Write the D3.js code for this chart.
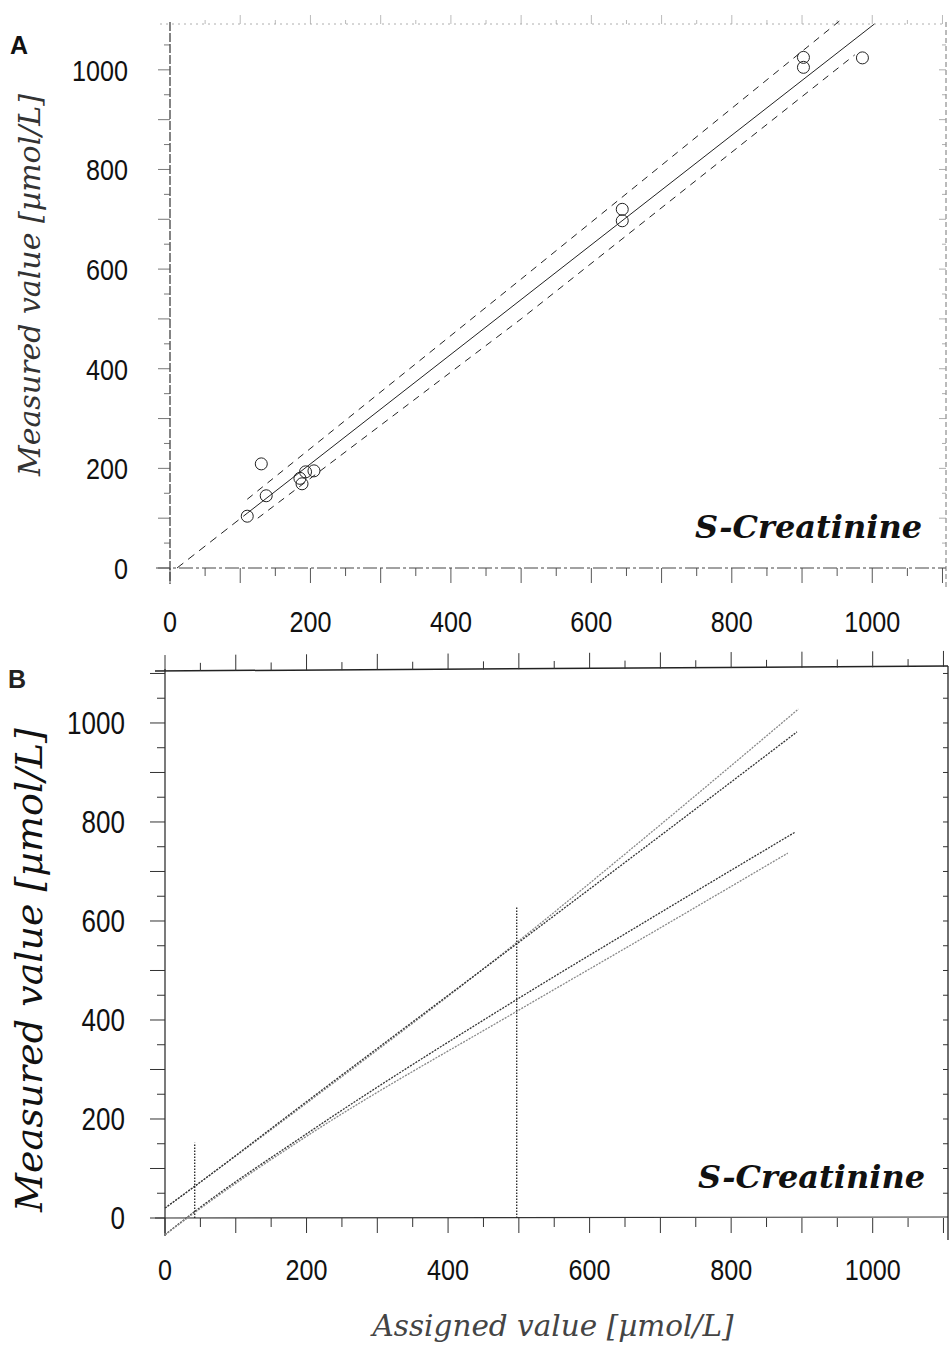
<!DOCTYPE html>
<html>
<head>
<meta charset="utf-8">
<script src="https://cdn.jsdelivr.net/npm/d3@7"></script>
<style>
  body { margin: 0; background: #fff; }
  svg { display: block; }
</style>
</head>
<body>
<script>
// ---- data ----
const tickLabels = [0, 200, 400, 600, 800, 1000]
const tickSteps = d3.range(0, 1101, 50)

// panel A: measured vs assigned, circles
const assignedA = [110, 130, 137, 188, 185, 193, 205, 644, 644, 902, 902, 986]
const measuredA = [104, 209, 145, 169, 180, 193, 195, 720, 697, 1025, 1005, 1024]

// panel A: regression line and its limits
const fitExtX = [10, 110]
const fitExtY = [0, 110]
const fitX = [110, 1003]
const fitY = [110, 1092]
const upperX = [110, 500, 955]
const upperY = [138, 580, 1100]
const lowerX = [125, 500, 975]
const lowerY = [100, 500, 1030]

// panel B: four limit curves
const curveX1 = [0, 41, 200, 500, 671, 895]
const curveY1 = [20, 63, 232, 560, 760, 1028]
const curveX2 = [0, 41, 200, 500, 671, 893]
const curveY2 = [20, 63, 235, 557, 741, 982]
const curveX3 = [0, 41, 200, 500, 671, 891]
const curveY3 = [-34, 12, 170, 444, 592, 780]
const curveX4 = [0, 41, 200, 500, 671, 880]
const curveY4 = [-34, 10, 165, 420, 562, 737]

// panel B: vertical markers
const markX = [42, 497]
const markTop = [152, 628]

const w = 952
const h = 1350
const numFont = "Liberation Sans, Arial, sans-serif"

let svg = d3.select("body")
    .append("svg")
    .attr("width", w)
    .attr("height", h)

const zip = (xs, ys) => xs.map((x, i) => [x, ys[i]])

// narrow-looking tick numbers: squeeze horizontally
function numLabels(g, data, fx, fy, anchor, size) {
    g.append("g").selectAll("text").data(data).enter()
        .append("text")
        .attr("transform", d => `translate(${fx(d)},${fy(d)}) scale(0.84,1)`)
        .attr("text-anchor", anchor)
        .attr("font-family", numFont)
        .attr("font-size", size).attr("fill", "#111")
        .text(d => d)
}

// ================= panel A =================
let xA = d3.scaleLinear().domain([0, 1105]).range([170, 946])
let yA = d3.scaleLinear().domain([0, 1092]).range([568, 24])
let gA = svg.append("g")

// frame
gA.append("line").attr("x1", 170).attr("x2", 170).attr("y1", 22).attr("y2", 584)
    .attr("stroke", "#333").attr("stroke-width", 1.2).attr("stroke-dasharray", "9,2")
gA.append("line").attr("x1", 156).attr("x2", 946).attr("y1", 568).attr("y2", 568)
    .attr("stroke", "#444").attr("stroke-width", 1).attr("stroke-dasharray", "14,3,3,3")
gA.append("line").attr("x1", 160).attr("x2", 946).attr("y1", 24).attr("y2", 24)
    .attr("stroke", "#999").attr("stroke-width", 0.8).attr("stroke-dasharray", "2,4")
gA.append("line").attr("x1", 946).attr("x2", 946).attr("y1", 22).attr("y2", 590)
    .attr("stroke", "#666").attr("stroke-width", 0.9).attr("stroke-dasharray", "5,3")

// ticks
gA.append("g").selectAll("line").data(tickSteps.filter(d => d <= 1100)).enter()
    .append("line")
    .attr("x1", d => xA(d)).attr("x2", d => xA(d))
    .attr("y1", 568).attr("y2", d => 568 + (d % 100 === 0 ? 15 : 8))
    .attr("stroke", "#444").attr("stroke-width", 0.9)
gA.append("g").selectAll("line").data(tickSteps.filter(d => d <= 1050)).enter()
    .append("line")
    .attr("y1", d => yA(d)).attr("y2", d => yA(d))
    .attr("x1", 170).attr("x2", d => 170 - (d % 100 === 0 ? 12 : 6))
    .attr("stroke", "#555").attr("stroke-width", 0.8)
gA.append("g").selectAll("line").data(tickSteps.filter(d => d > 0 && d <= 1100)).enter()
    .append("line")
    .attr("x1", d => xA(d)).attr("x2", d => xA(d))
    .attr("y1", 24).attr("y2", d => 24 - (d % 100 === 0 ? 9 : 4))
    .attr("stroke", "#aaa").attr("stroke-width", 0.8)
gA.append("g").selectAll("line").data(tickSteps.filter(d => d > 0 && d <= 1050)).enter()
    .append("line")
    .attr("y1", d => yA(d)).attr("y2", d => yA(d))
    .attr("x1", 946).attr("x2", d => 946 - (d % 100 === 0 ? 7 : 4))
    .attr("stroke", "#999").attr("stroke-width", 0.8)

// tick labels
numLabels(gA, tickLabels, d => xA(d), d => 632, "middle", 30)
numLabels(gA, tickLabels, d => 128, d => yA(d) + 11, "end", 30)

let line = d3.line().x(d => xA(d[0])).y(d => yA(d[1]))
gA.append("path").attr("d", line(zip(fitExtX, fitExtY)))
    .attr("fill", "none").attr("stroke", "#222").attr("stroke-width", 1)
    .attr("stroke-dasharray", "8,6")
gA.append("path").attr("d", line(zip(fitX, fitY)))
    .attr("fill", "none").attr("stroke", "#222").attr("stroke-width", 1)
gA.append("path").attr("d", line(zip(upperX, upperY)))
    .attr("fill", "none").attr("stroke", "#222").attr("stroke-width", 1)
    .attr("stroke-dasharray", "7,6")
gA.append("path").attr("d", line(zip(lowerX, lowerY)))
    .attr("fill", "none").attr("stroke", "#222").attr("stroke-width", 1)
    .attr("stroke-dasharray", "7,6")

gA.append("g").selectAll("circle").data(zip(assignedA, measuredA)).enter()
    .append("circle")
    .attr("cx", d => xA(d[0])).attr("cy", d => yA(d[1]))
    .attr("r", 6)
    .attr("fill", "none").attr("stroke", "#222").attr("stroke-width", 1)

gA.append("text").attr("x", 922).attr("y", 538)
    .attr("text-anchor", "end")
    .attr("font-family", "DejaVu Serif, serif")
    .attr("font-style", "italic").attr("font-weight", "bold")
    .attr("font-size", 32).attr("fill", "#111")
    .text("S-Creatinine")

gA.append("text")
    .attr("transform", "translate(40,285) rotate(-90)")
    .attr("text-anchor", "middle")
    .attr("font-family", "DejaVu Serif, serif")
    .attr("font-style", "italic").attr("font-weight", 300)
    .attr("font-size", 30).attr("fill", "#333")
    .text("Measured value [µmol/L]")

svg.append("text").attr("x", 10).attr("y", 54)
    .attr("font-family", numFont)
    .attr("font-weight", "bold").attr("font-size", 25).attr("fill", "#111")
    .text("A")

// ================= panel B =================
let xB = d3.scaleLinear().domain([0, 1105]).range([165, 947])
let yB = d3.scaleLinear().domain([0, 1105]).range([1218, 671])
let gB = svg.append("g")

gB.append("line").attr("x1", 165).attr("x2", 165).attr("y1", 669).attr("y2", 1236)
    .attr("stroke", "#222").attr("stroke-width", 1.2)
gB.append("line").attr("x1", 155).attr("x2", 948).attr("y1", 671).attr("y2", 666)
    .attr("stroke", "#222").attr("stroke-width", 1.5)
gB.append("line").attr("x1", 155).attr("x2", 948).attr("y1", 1218).attr("y2", 1217)
    .attr("stroke", "#333").attr("stroke-width", 1.2)
gB.append("line").attr("x1", 948).attr("x2", 948).attr("y1", 666).attr("y2", 1240)
    .attr("stroke", "#222").attr("stroke-width", 1.3)

gB.append("g").selectAll("line").data(tickSteps.filter(d => d <= 1100)).enter()
    .append("line")
    .attr("x1", d => xB(d)).attr("x2", d => xB(d))
    .attr("y1", 1218).attr("y2", d => 1218 + (d % 100 === 0 ? 15 : 9))
    .attr("stroke", "#333").attr("stroke-width", 1)
gB.append("g").selectAll("line").data(tickSteps.filter(d => d <= 1100)).enter()
    .append("line")
    .attr("x1", d => xB(d)).attr("x2", d => xB(d))
    .attr("y1", d => yB(1105) - xB(d) / 190 + 0.9)
    .attr("y2", d => yB(1105) - xB(d) / 190 + 0.9 - (d % 100 === 0 ? 16 : 8))
    .attr("stroke", "#333").attr("stroke-width", 1)
gB.append("g").selectAll("line").data(tickSteps.filter(d => d <= 1100)).enter()
    .append("line")
    .attr("y1", d => yB(d)).attr("y2", d => yB(d))
    .attr("x1", 165).attr("x2", d => 165 - (d % 100 === 0 ? 15 : 8))
    .attr("stroke", "#333").attr("stroke-width", 1)
gB.append("g").selectAll("line").data(tickSteps.filter(d => d > 0 && d <= 1100)).enter()
    .append("line")
    .attr("y1", d => yB(d)).attr("y2", d => yB(d))
    .attr("x1", 948).attr("x2", 943)
    .attr("stroke", "#333").attr("stroke-width", 1)

numLabels(gB, tickLabels, d => xB(d), d => 1280, "middle", 30)
numLabels(gB, tickLabels, d => 125, d => yB(d) + 11, "end", 31)

let lineB = d3.line().x(d => xB(d[0])).y(d => yB(d[1])).curve(d3.curveMonotoneX)
const curves = [
    [curveX1, curveY1, "#888"],
    [curveX2, curveY2, "#333"],
    [curveX3, curveY3, "#333"],
    [curveX4, curveY4, "#888"]
]
gB.append("g").selectAll("path").data(curves).enter()
    .append("path")
    .attr("d", d => lineB(zip(d[0], d[1])))
    .attr("fill", "none").attr("stroke", d => d[2]).attr("stroke-width", 1.3)
    .attr("stroke-dasharray", "2,1.2")

gB.append("g").selectAll("line").data(zip(markX, markTop)).enter()
    .append("line")
    .attr("x1", d => xB(d[0])).attr("x2", d => xB(d[0]))
    .attr("y1", yB(0)).attr("y2", d => yB(d[1]))
    .attr("stroke", "#222").attr("stroke-width", 1.3)
    .attr("stroke-dasharray", "1.5,1.5")

gB.append("text").attr("x", 925).attr("y", 1188)
    .attr("text-anchor", "end")
    .attr("font-family", "DejaVu Serif, serif")
    .attr("font-style", "italic").attr("font-weight", "bold")
    .attr("font-size", 32).attr("fill", "#111")
    .text("S-Creatinine")

gB.append("text")
    .attr("transform", "translate(42,970) rotate(-90)")
    .attr("text-anchor", "middle")
    .attr("font-family", "DejaVu Serif, serif")
    .attr("font-style", "italic")
    .attr("font-size", 38).attr("fill", "#111")
    .text("Measured value [µmol/L]")

svg.append("text").attr("x", 8).attr("y", 688)
    .attr("font-family", numFont)
    .attr("font-weight", "bold").attr("font-size", 25).attr("fill", "#222")
    .text("B")

svg.append("text").attr("x", 553).attr("y", 1336)
    .attr("text-anchor", "middle")
    .attr("font-family", "DejaVu Serif, serif")
    .attr("font-style", "italic").attr("font-weight", 300)
    .attr("font-size", 29.5).attr("fill", "#444")
    .text("Assigned value [µmol/L]")
</script>
</body>
</html>
